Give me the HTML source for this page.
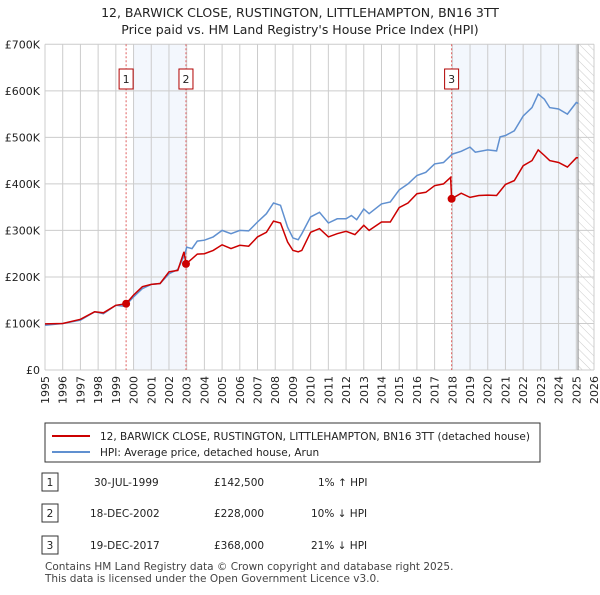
<!DOCTYPE html>
<html><head><meta charset="utf-8"><style>
body{margin:0;background:#fff;font-family:"Liberation Sans","DejaVu Sans",sans-serif;}
svg text{font-family:"DejaVu Sans","Liberation Sans",sans-serif;}
</style></head><body>
<svg id="c" width="600" height="590" viewBox="0 0 600 590" xmlns="http://www.w3.org/2000/svg">
<defs><pattern id="hatch" width="6" height="6" patternUnits="userSpaceOnUse" patternTransform="rotate(-45)"><line x1="0" y1="0" x2="0" y2="6" stroke="#ccc" stroke-width="1"/></pattern></defs>
<text x="300" y="17" text-anchor="middle" font-size="12.5" fill="#222">12, BARWICK CLOSE, RUSTINGTON, LITTLEHAMPTON, BN16 3TT</text>
<text x="300" y="34" text-anchor="middle" font-size="12.5" fill="#222">Price paid vs. HM Land Registry's House Price Index (HPI)</text>
<g id="plot"></g>
<rect x="45" y="423" width="495" height="39" fill="#fff" stroke="#333"/>
<line x1="52" y1="436" x2="90" y2="436" stroke="#cc0000" stroke-width="2"/>
<text x="100" y="440" font-size="10.5" fill="#222">12, BARWICK CLOSE, RUSTINGTON, LITTLEHAMPTON, BN16 3TT (detached house)</text>
<line x1="52" y1="452" x2="90" y2="452" stroke="#6090d0" stroke-width="2"/>
<text x="100" y="456" font-size="10.5" fill="#222">HPI: Average price, detached house, Arun</text>
<g font-size="10.5" fill="#222">
<rect x="42" y="473" width="16" height="18" fill="#fff" stroke="#333"/><text x="50" y="486" text-anchor="middle">1</text>
<text x="94" y="486">30-JUL-1999</text><text x="214" y="486">£142,500</text><text x="318" y="486">1% ↑ HPI</text>
<rect x="42" y="504" width="16" height="18" fill="#fff" stroke="#333"/><text x="50" y="517" text-anchor="middle">2</text>
<text x="90" y="517">18-DEC-2002</text><text x="214" y="517">£228,000</text><text x="311" y="517">10% ↓ HPI</text>
<rect x="42" y="536" width="16" height="18" fill="#fff" stroke="#333"/><text x="50" y="549" text-anchor="middle">3</text>
<text x="90" y="549">19-DEC-2017</text><text x="214" y="549">£368,000</text><text x="311" y="549">21% ↓ HPI</text>
</g>
<text x="45" y="570" font-size="10.5" fill="#444">Contains HM Land Registry data © Crown copyright and database right 2025.</text>
<text x="45" y="582" font-size="10.5" fill="#444">This data is licensed under the Open Government Licence v3.0.</text>
</svg>
<script>
const hpiYears=[1995,1996,1997,1997.8,1998.3,1999,1999.5,2000,2000.5,2001,2001.5,2002,2002.5,2002.9,2003,2003.3,2003.6,2004,2004.5,2005,2005.5,2006,2006.5,2007,2007.5,2007.9,2008.3,2008.7,2009,2009.3,2009.5,2010,2010.5,2011,2011.5,2012,2012.3,2012.6,2013,2013.3,2014,2014.5,2015,2015.5,2016,2016.5,2017,2017.5,2018,2018.5,2019,2019.3,2020,2020.5,2020.7,2021,2021.5,2022,2022.5,2022.85,2023.2,2023.5,2024,2024.5,2025,2025.1];
const hpiValues=[96,100,107,125,121,139,137,157,175,184,186,207,216,249,264,261,277,279,286,300,293,300,299,318,336,359,354,307,284,280,293,329,339,316,325,325,332,323,346,336,357,361,387,400,418,425,443,446,464,470,479,468,473,471,501,504,514,546,564,593,582,564,561,550,575,573];
const priceYears=[1995,1996,1997,1997.8,1998.3,1999,1999.58,2000,2000.5,2001,2001.5,2002,2002.5,2002.85,2002.96,2003.3,2003.6,2004,2004.5,2005,2005.5,2006,2006.5,2007,2007.5,2007.9,2008.3,2008.7,2009,2009.3,2009.5,2010,2010.5,2011,2011.5,2012,2012.5,2013,2013.3,2014,2014.5,2015,2015.5,2016,2016.5,2017,2017.5,2017.9,2017.96,2018.5,2019,2019.5,2020,2020.5,2021,2021.5,2022,2022.5,2022.85,2023.2,2023.5,2024,2024.5,2025,2025.1];
const priceValues=[99,100,109,125,123,139,142.5,161,179,184,186,211,214,254,228,239,249,250,257,269,261,268,266,286,296,320,316,275,257,254,257,296,304,286,293,298,291,311,300,318,318,349,359,379,382,396,400,414,368,380,371,375,376,375,399,407,439,450,473,461,450,446,436,456,456];
const saleYears=[1999.58,2002.96,2017.96];
const saleValues=[142.5,228,368];
const saleLabels=["1","2","3"];
const yTicks=[0,100,200,300,400,500,600,700];
const yTickLabels=["£0","£100K","£200K","£300K","£400K","£500K","£600K","£700K"];
const xTicks=[1995,1996,1997,1998,1999,2000,2001,2002,2003,2004,2005,2006,2007,2008,2009,2010,2011,2012,2013,2014,2015,2016,2017,2018,2019,2020,2021,2022,2023,2024,2025,2026];

const L=45,R=594,T=44.3,B=370,x0=1995,x1=2026,vmax=700,dataEnd=2025.1;
const X=y=>L+(y-x0)/(x1-x0)*(R-L);
const Y=v=>B-v/vmax*(B-T);
const NS='http://www.w3.org/2000/svg';
const g=document.getElementById('plot');
function mk(t,a,p){const e=document.createElementNS(NS,t);for(const k in a)e.setAttribute(k,a[k]);(p||g).appendChild(e);return e;}
// shading
let e=mk('rect',{x:X(2000),y:T,width:X(2002.96)-X(2000),height:B-T,fill:'#eef3fc',opacity:0.7});


e=mk('rect',{x:X(2017.96),y:T,width:X(dataEnd)-X(2017.96),height:B-T,fill:'#eef3fc',opacity:0.7});


e=mk('rect',{x:X(dataEnd),y:T,width:R-X(dataEnd),height:B-T,fill:'url(#hatch)'});


// grid
xTicks.forEach((t,i)=>{
 const l=mk('line',{x1:X(t),x2:X(t),y1:T,y2:B,stroke:'#cccccc','stroke-width':1});
 
 
 const tx=mk('text',{x:0,y:0,'font-size':11,fill:'#222','text-anchor':'end',transform:`translate(${X(t)+4},${B+6}) rotate(-90)`});
 tx.textContent=t;
 
 
});
yTicks.forEach((t,i)=>{
 const l=mk('line',{x1:L,x2:R,y1:Y(t),y2:Y(t),stroke:'#cccccc','stroke-width':1});
 
 
 const tx=mk('text',{x:L-5,y:Y(t)+4,'font-size':11,fill:'#222','text-anchor':'end'});
 tx.textContent=yTickLabels[i];
 
 
});
e=mk('line',{x1:X(dataEnd),x2:X(dataEnd),y1:T,y2:B,stroke:'#999','stroke-width':1.2});


// sale lines
saleYears.forEach((s,i)=>{
 const l=mk('line',{x1:X(s),x2:X(s),y1:T,y2:B,stroke:'#e06060','stroke-width':1,'stroke-dasharray':'2,2'});
 
 
 const r=mk('rect',{x:X(s)-7,y:69,width:14,height:20,fill:'#fff',stroke:'#b00000'});
 
 
 const tx=mk('text',{x:X(s),y:83,'font-size':11,fill:'#222','text-anchor':'middle'});
 tx.textContent=saleLabels[i];
 
 
});
// lines
const path=(xs,vs)=>xs.map((x,i)=>(i?'L':'M')+X(x).toFixed(1)+','+Y(vs[i]).toFixed(1)).join('');
e=mk('path',{d:path(hpiYears,hpiValues),fill:'none',stroke:'#6090d0','stroke-width':1.5});


e=mk('path',{d:path(priceYears,priceValues),fill:'none',stroke:'#cc0000','stroke-width':1.5});


saleYears.forEach((s,i)=>{
 const c=mk('circle',{cx:X(s),cy:Y(saleValues[i]),r:4,fill:'#cc0000'});
 
 
});
</script>
</body></html>
